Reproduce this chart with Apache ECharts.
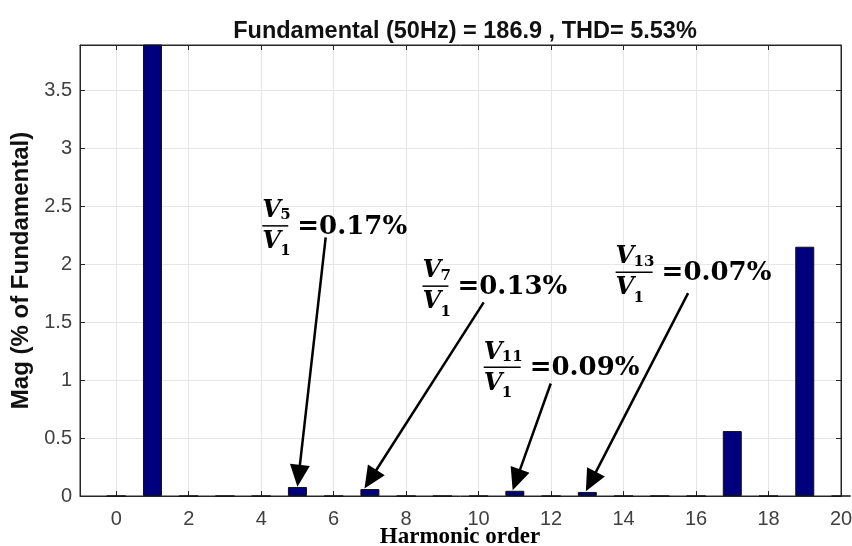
<!DOCTYPE html>
<html>
<head>
<meta charset="utf-8">
<script src="https://cdn.jsdelivr.net/npm/echarts@6/dist/echarts.min.js"></script>
<style>
  html, body { margin: 0; padding: 0; background: #fff; }
  #main { width: 852px; height: 546px; }
</style>
</head>
<body>
<div id="main"></div>
<script>
  // harmonic spectrum (% of fundamental)
  var harmonics  = [0, 1, 2, 3, 4, 5, 6, 7, 8, 9, 10, 11, 12, 13, 14, 15, 16, 17, 18, 19, 20];
  var magnitudes = [0, 100, 0, 0, 0, 0.078, 0, 0.06, 0, 0, 0, 0.045, 0, 0.035, 0, 0, 0, 0.56, 0, 2.15, 0];
  var xTicks = [0, 2, 4, 6, 8, 10, 12, 14, 16, 18, 20];
  var yTicks = [0, 0.5, 1, 1.5, 2, 2.5, 3, 3.5];
  var titleText = 'Fundamental (50Hz) = 186.9 , THD= 5.53%';
  var xName = 'Harmonic order';

  // annotation text, and where it sits (axis units)
  var noteOrders = ['5', '7', '11', '13'];
  var noteValues = ['=0.17%', '=0.13%', '=0.09%', '=0.07%'];
  var noteAt     = [[4.03, 2.33], [8.45, 1.81], [10.14, 1.11], [13.78, 1.93]];
  // arrows: from label to bar top (tip)
  var arrowFrom  = [[5.78, 2.23], [10.14, 1.67], [11.99, 0.97], [15.78, 1.75]];
  var arrowTo    = [[5.0, 0.08], [6.85, 0.065], [10.94, 0.05], [12.96, 0.04]];

  var chart = echarts.init(document.getElementById('main'));
  var axisColor = '#262626';
  var labelColor = '#404040';

  var barData = harmonics.map(function (h, i) { return [h, magnitudes[i]]; });

  chart.setOption({
    animation: false,
    title: {
      text: titleText,
      left: 460,
      top: 15,
      textAlign: 'center',
      textStyle: { fontFamily: 'Liberation Sans', fontSize: 23.5, fontWeight: 'bold', color: '#111' }
    },
    grid: {
      left: 80, right: 11, top: 45, bottom: 50, outerBoundsMode: 'none', containLabel: false,
      show: true, borderColor: axisColor, borderWidth: 1
    },
    xAxis: [{
      type: 'value', min: -1, max: 20, minInterval: 2, maxInterval: 2,
      axisLine: { onZero: false, lineStyle: { color: axisColor } },
      axisTick: { inside: true, length: 5, lineStyle: { color: axisColor } },
      axisLabel: {
        margin: 13, fontFamily: 'Liberation Sans', fontSize: 20, color: labelColor,
        formatter: function (v) { return xTicks.indexOf(v) >= 0 ? String(v) : ''; }
      },
      splitLine: { show: true, lineStyle: { color: '#e6e6e6' } }
    }, {
      type: 'value', min: -1, max: 20, minInterval: 2, maxInterval: 2, position: 'top',
      axisLine: { onZero: false, lineStyle: { color: axisColor } },
      axisTick: { inside: true, length: 5, lineStyle: { color: axisColor } },
      axisLabel: { show: false }, splitLine: { show: false }
    }],
    yAxis: [{
      type: 'value', min: 0, max: 3.89, interval: 0.5,
      name: 'Mag (% of Fundamental)', nameLocation: 'middle', nameGap: 45,
      nameTextStyle: { fontFamily: 'Liberation Sans', fontWeight: 'bold', fontSize: 24, color: '#111' },
      axisLine: { show: true, onZero: false, lineStyle: { color: axisColor } },
      axisTick: { show: true, inside: true, length: 5, lineStyle: { color: axisColor } },
      axisLabel: {
        margin: 8, fontFamily: 'Liberation Sans', fontSize: 20, color: labelColor, showMaxLabel: false,
        formatter: function (v) { return yTicks.indexOf(v) >= 0 ? String(v) : ''; }
      },
      splitLine: { show: true, lineStyle: { color: '#e6e6e6' } }
    }, {
      type: 'value', min: 0, max: 3.89, interval: 0.5, position: 'right',
      axisLine: { show: true, onZero: false, lineStyle: { color: axisColor } },
      axisTick: { show: true, inside: true, length: 5, lineStyle: { color: axisColor } },
      axisLabel: { show: false }, splitLine: { show: false }
    }],
    series: [{
      type: 'bar',
      data: barData,
      barWidth: 19,
      clip: true,
      itemStyle: { color: '#00007f', borderColor: '#111', borderWidth: 1 }
    }]
  });

  // arrows: the triangle is centred on the line end, so pull the end back by half a head
  var finder = { xAxisIndex: 0, yAxisIndex: 0 };
  var headLen = 22;
  var arrows = arrowFrom.map(function (from, i) {
    var a = chart.convertToPixel(finder, from);
    var b = chart.convertToPixel(finder, arrowTo[i]);
    var dx = a[0] - b[0], dy = a[1] - b[1];
    var len = Math.sqrt(dx * dx + dy * dy);
    var c = [b[0] + dx / len * headLen / 2, b[1] + dy / len * headLen / 2];
    return [{ coord: from }, { coord: chart.convertFromPixel(finder, c) }];
  });

  // x axis title, centred under the plot
  var graphics = [{
    type: 'text', x: 460, y: 537,
    style: {
      text: xName, font: 'bold 23px "Liberation Serif"', fill: '#000',
      textAlign: 'center', textVerticalAlign: 'middle'
    }
  }];

  // fraction labels V_n / V_1 = x%
  var serif = '"DejaVu Serif"';
  noteAt.forEach(function (pos, i) {
    var p = chart.convertToPixel(finder, pos);
    var w = noteOrders[i].length > 1 ? 37 : 26;
    var x = p[0], y = p[1];
    graphics.push(
      { type: 'text', x: x, y: y - 3, style: { text: 'V', font: 'italic bold 24px ' + serif, fill: '#000', textVerticalAlign: 'bottom' } },
      { type: 'text', x: x + 18, y: y - 3, style: { text: noteOrders[i], font: 'bold 15px ' + serif, fill: '#000', textVerticalAlign: 'bottom' } },
      { type: 'line', shape: { x1: x, y1: y, x2: x + w, y2: y }, style: { stroke: '#000', lineWidth: 1.5 } },
      { type: 'text', x: x, y: y + 4, style: { text: 'V', font: 'italic bold 24px ' + serif, fill: '#000', textVerticalAlign: 'top' } },
      { type: 'text', x: x + 18, y: y + 33, style: { text: '1', font: 'bold 15px ' + serif, fill: '#000', textVerticalAlign: 'bottom' } },
      { type: 'text', x: x + w + 9, y: y + 1, style: { text: noteValues[i], font: 'bold 26px ' + serif, fill: '#000', textVerticalAlign: 'middle' } }
    );
  });

  chart.setOption({
    graphic: graphics,
    series: [{
      markLine: {
        silent: true,
        symbol: ['none', 'triangle'],
        symbolSize: [20, headLen],
        label: { show: false },
        lineStyle: { color: '#000', width: 2.5, type: 'solid' },
        data: arrows
      }
    }]
  });
</script>
</body>
</html>
